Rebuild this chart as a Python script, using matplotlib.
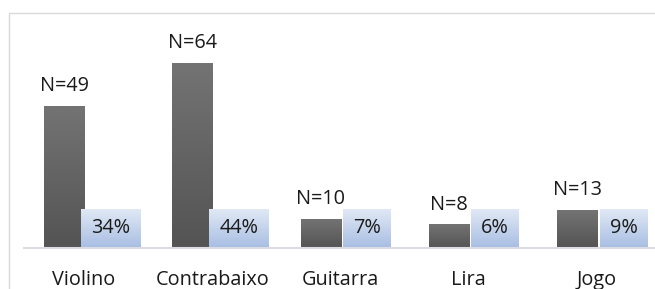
import matplotlib
matplotlib.use('Agg')
import matplotlib.pyplot as plt
import numpy as np
from matplotlib.colors import LinearSegmentedColormap
from matplotlib.patches import Rectangle

categories = ['Violino', 'Contrabaixo', 'Guitarra', 'Lira', 'Jogo']
counts = [49, 64, 10, 8, 13]
percents = [34, 44, 7, 6, 9]

plt.rcParams['font.family'] = ['Open Sans', 'DejaVu Sans']
W, H = 655, 289
fig = plt.figure(figsize=(W / 100, H / 100), dpi=100)
fig.patch.set_facecolor('white')

def px(x0, y0, x1, y1):
    return [x0 / W, 1 - y1 / H, (x1 - x0) / W, (y1 - y0) / H]

# chart border
fig.add_artist(Rectangle((9 / W, -0.1), 1.0, 1 - 12.5 / H + 0.1, transform=fig.transFigure,
                         fill=False, edgecolor='#d9d9d9', linewidth=1.0))

ax = fig.add_axes(px(24, 40, 655, 248))
ax.set_xlim(-0.468, 4.452)
ax.set_ylim(0, 72)
w = 0.312
x = np.arange(len(categories))

dark = LinearSegmentedColormap.from_list('dk', ['#545454', '#737373'])
blue = LinearSegmentedColormap.from_list('bl', ['#a9bfe3', '#e0e8f4'])
grad = np.linspace(0, 1, 64).reshape(-1, 1)

bars = ax.bar(x - w / 2, counts, width=w, color='#606060', zorder=2)
for b in bars:
    x0, y0 = b.get_x(), b.get_y()
    ax.imshow(grad, extent=[x0, x0 + b.get_width(), y0, y0 + b.get_height()],
              origin='lower', aspect='auto', cmap=dark, zorder=3)
ax.bar(x + w / 2, [p / 100 for p in percents], width=w, color='#dce6f2', zorder=2)

fs = 14.3
for xi, c in zip(x, counts):
    ax.text(xi - w / 2, c + 5.2, f'N={c}', ha='center', va='baseline', fontsize=fs,
            color='#1a1a1a', zorder=6)

fig.canvas.draw()
r = fig.canvas.get_renderer()
inv = ax.transData.inverted()
for xi, p in zip(x, percents):
    t = ax.text(xi + w / 2 + 0.05, 6.9, f'{p}%', ha='center', va='center', fontsize=fs,
                color='#1a1a1a', zorder=7)
    bb = t.get_window_extent(r)
    cy = ax.transData.transform((0, 6.9))[1]
    (dx0, dy0) = inv.transform((bb.x0 - 10, cy - 19))
    (dx1, dy1) = inv.transform((bb.x1 + 10, cy + 19))
    ax.imshow(grad, extent=[dx0, dx1, dy0, dy1], origin='lower', aspect='auto',
              cmap=blue, zorder=5, clip_on=False)

ax.set_xlim(-0.468, 4.452)
ax.set_ylim(0, 72)
ax.set_xticks(x)
ax.set_xticklabels(categories, fontsize=fs, color='#1a1a1a')
ax.tick_params(axis='x', length=0, pad=15.5)
ax.set_yticks([])
for s in ['top', 'left', 'right']:
    ax.spines[s].set_visible(False)
ax.spines['bottom'].set_color('#d9dde3')
ax.spines['bottom'].set_linewidth(1.5)
ax.spines['bottom'].set_zorder(4)
ax.patch.set_alpha(0)

fig.savefig('out.png', dpi=100)
